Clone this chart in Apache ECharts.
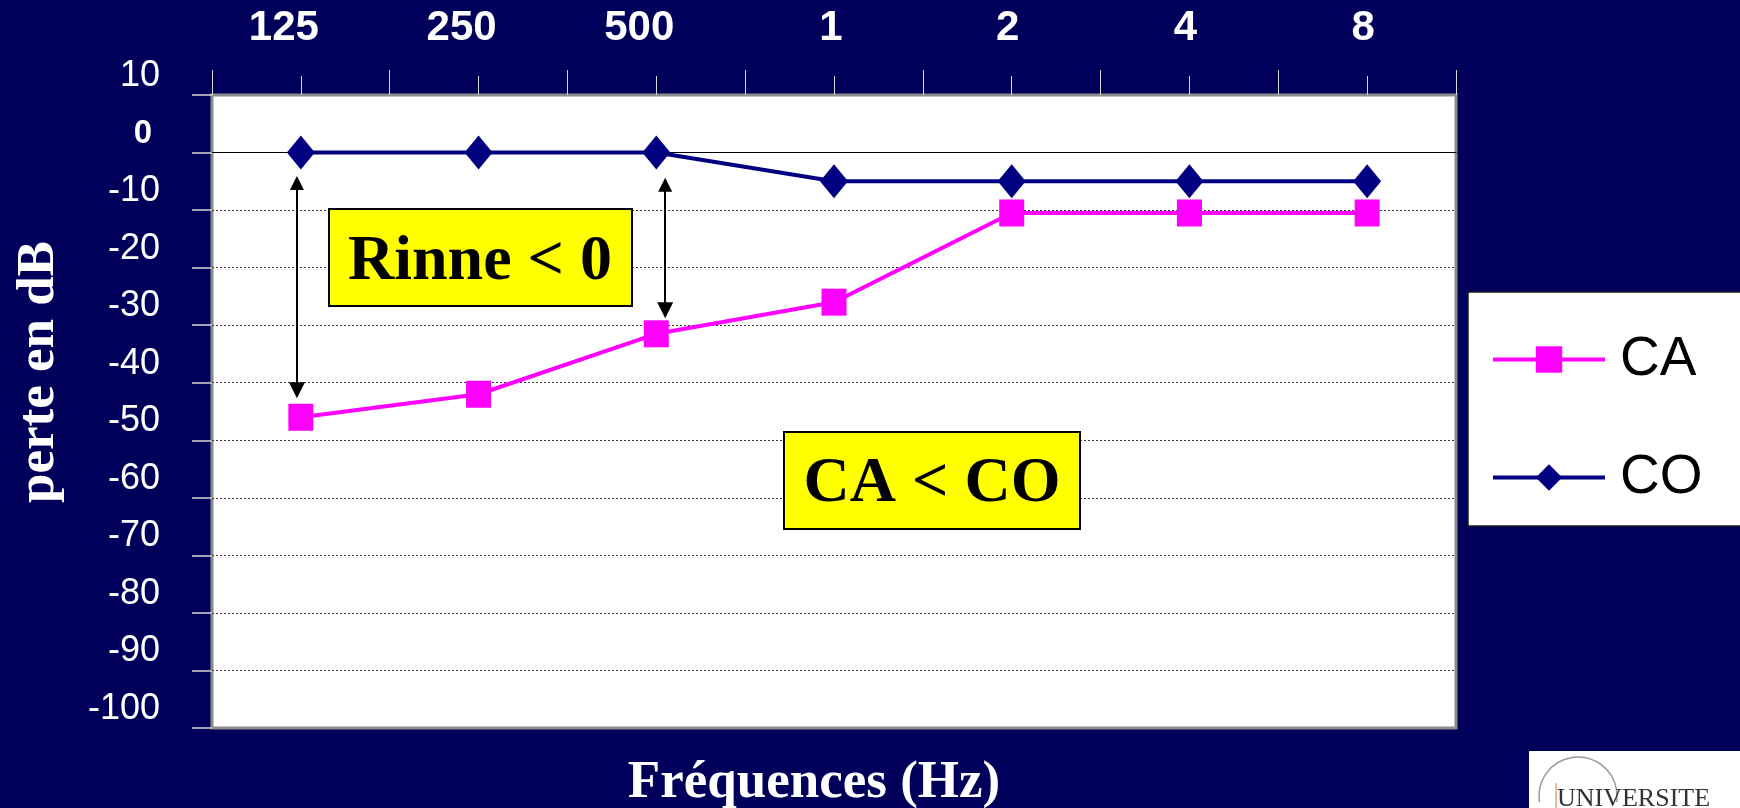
<!DOCTYPE html>
<html>
<head>
<meta charset="utf-8">
<script src="https://cdn.jsdelivr.net/npm/echarts@6/dist/echarts.min.js"></script>
<style>
html,body{margin:0;padding:0;background:#00005a;}
#chart{width:1740px;height:808px;}
</style>
</head>
<body>
<div id="chart"></div>
<script>
// ---- data ----
const frequencies = ['125', '250', '500', '1', '2', '4', '8'];
const caValues = [-46, -42, -31.5, -26, -10.5, -10.5, -10.5];
const coValues = [0, 0, 0, -5, -5, -5, -5];
const yMin = -100;
const yMax = 10;
const yStep = 10;
// annotation arrows (x in category units, y in dB)
const arrow125 = [[-0.022, -5.3], [-0.022, -41.3]];
const arrow500 = [[2.05, -5.6], [2.05, -27.4]];
// horizontal shift of each top label (px), styling only
const labelShift = [-17, -17, -17, -3, -4, -4, -4];

const SANS = '"Liberation Sans", Arial, sans-serif';
const SERIF = '"Liberation Serif", "Times New Roman", serif';

const topLabelData = frequencies.map((f, i) => ({
  value: f,
  textStyle: { padding: [0, -2 * labelShift[i], 0, 0] }
}));

const chart = echarts.init(document.getElementById('chart'), null, { renderer: 'canvas' });

const option = {
  backgroundColor: '#00005a',
  animation: false,
  grid: {
    left: 212, top: 95, width: 1244, height: 633,
    show: true, backgroundColor: '#ffffff',
    borderColor: '#8c8c8c', borderWidth: 3,
    containLabel: false
  },
  legend: {
    data: ['CA', 'CO'],
    orient: 'vertical',
    left: 1468, top: 292,
    backgroundColor: '#ffffff',
    borderColor: '#1a1a1a', borderWidth: 1.5,
    padding: [40, 80, 21, 23],
    itemWidth: 112, itemHeight: 33, itemGap: 63,
    selectedMode: false,
    lineStyle: { width: 4 },
    textStyle: { fontSize: 55, fontFamily: SANS, color: '#000', lineHeight: 55, padding: [0, 0, 0, 10] }
  },
  xAxis: [
    {
      type: 'category', data: topLabelData, position: 'top', boundaryGap: true,
      axisLine: { show: false, onZero: false },
      axisTick: { show: true, length: 25, lineStyle: { color: '#d8d8d8', width: 1 } },
      axisLabel: { color: '#fff', fontSize: 42, fontWeight: 'bold', fontFamily: SANS, margin: 46, lineHeight: 42 },
      splitLine: { show: false }
    },
    {
      type: 'category', data: frequencies, position: 'top', boundaryGap: true,
      axisLine: { show: false, onZero: false },
      axisTick: { show: true, alignWithLabel: true, length: 19, lineStyle: { color: '#d8d8d8', width: 1 } },
      axisLabel: { show: false },
      splitLine: { show: false }
    },
    {
      type: 'category', data: frequencies, position: 'bottom', boundaryGap: true,
      axisLine: { show: true, onZero: true, lineStyle: { color: '#000', width: 1 } },
      axisTick: { show: false },
      axisLabel: { show: false },
      splitLine: { show: false }
    },
    {
      type: 'value', min: -0.5, max: 6.5, show: false,
      axisLine: { onZero: false }
    }
  ],
  yAxis: {
    type: 'value', min: yMin, max: yMax, interval: yStep,
    axisLine: { show: false, onZero: false },
    axisTick: { show: true, length: 20, lineStyle: { color: '#d8d8d8', width: 1.5 } },
    axisLabel: {
      color: '#fff', fontSize: 36, fontFamily: SANS, margin: 52,
      verticalAlign: 'bottom', lineHeight: 38,
      formatter: v => (v === 0 ? '{z|0}' : String(v)),
      rich: { z: { fontSize: 33, fontWeight: 'bold', fontFamily: SANS, color: '#fff', lineHeight: 38, padding: [0, 8, 0, 0] } }
    },
    splitLine: { show: true, showMinLine: false, showMaxLine: false, lineStyle: { color: '#333', type: [2, 2], width: 1 } }
  },
  series: [
    {
      name: 'CA', type: 'line', data: caValues, xAxisIndex: 0, yAxisIndex: 0,
      symbol: 'rect', symbolSize: [25, 27],
      lineStyle: { color: '#ff00ff', width: 4 },
      itemStyle: { color: '#ff00ff' },
      z: 3
    },
    {
      name: 'CO', type: 'line', data: coValues, xAxisIndex: 0, yAxisIndex: 0,
      symbol: 'diamond', symbolSize: [28, 34],
      lineStyle: { color: '#000080', width: 4 },
      itemStyle: { color: '#000080' },
      z: 4
    },
    {
      type: 'lines', coordinateSystem: 'cartesian2d', xAxisIndex: 3, yAxisIndex: 0,
      data: [{ coords: arrow125 }, { coords: arrow500 }],
      symbol: ['triangle', 'triangle'], symbolSize: [14, 16],
      lineStyle: { color: '#000', width: 2, opacity: 1, curveness: 0 },
      itemStyle: { color: '#000' },
      z: 5, silent: true
    }
  ],
  graphic: [
    // "Rinne < 0" box
    { type: 'rect', shape: { x: 329, y: 209, width: 303, height: 97 }, style: { fill: '#ffff00', stroke: '#000', lineWidth: 2 }, z: 10 },
    { type: 'text', x: 480, y: 262, style: { text: 'Rinne < 0', align: 'center', verticalAlign: 'middle', fontSize: 64, fontWeight: 'bold', fontFamily: SERIF, fill: '#000' }, z: 11 },
    // "CA < CO" box
    { type: 'rect', shape: { x: 784, y: 432, width: 296, height: 97 }, style: { fill: '#ffff00', stroke: '#000', lineWidth: 2 }, z: 10 },
    { type: 'text', x: 932, y: 484, style: { text: 'CA < CO', align: 'center', verticalAlign: 'middle', fontSize: 64, fontWeight: 'bold', fontFamily: SERIF, fill: '#000' }, z: 11 },
    // axis titles
    { type: 'text', x: 814, y: 783, style: { text: 'Fréquences (Hz)', align: 'center', verticalAlign: 'middle', fontSize: 53, fontWeight: 'bold', fontFamily: SERIF, fill: '#fff' }, z: 10 },
    { type: 'text', x: 39, y: 372, rotation: Math.PI / 2, style: { text: 'perte en dB', align: 'center', verticalAlign: 'middle', fontSize: 53, fontWeight: 'bold', fontFamily: SERIF, fill: '#fff' }, z: 10 },
    // logo
    { type: 'rect', shape: { x: 1529, y: 751, width: 211, height: 57 }, style: { fill: '#ffffff' }, z: 10 },
    { type: 'arc', shape: { cx: 1578, cy: 796, r: 39, startAngle: Math.PI * 0.95, endAngle: Math.PI * 2.05 }, style: { stroke: '#9a9a9a', lineWidth: 1.5, fill: null }, z: 11 },
    { type: 'line', shape: { x1: 1556, y1: 783, x2: 1556, y2: 808 }, style: { stroke: '#e9a27a', lineWidth: 1.5 }, z: 11 },
    { type: 'text', x: 1557, y: 812, style: { text: 'UNIVERSITE', align: 'left', verticalAlign: 'bottom', fontSize: 26, fontFamily: SERIF, fill: '#333' }, z: 12 }
  ]
};

chart.setOption(option);
</script>
</body>
</html>
